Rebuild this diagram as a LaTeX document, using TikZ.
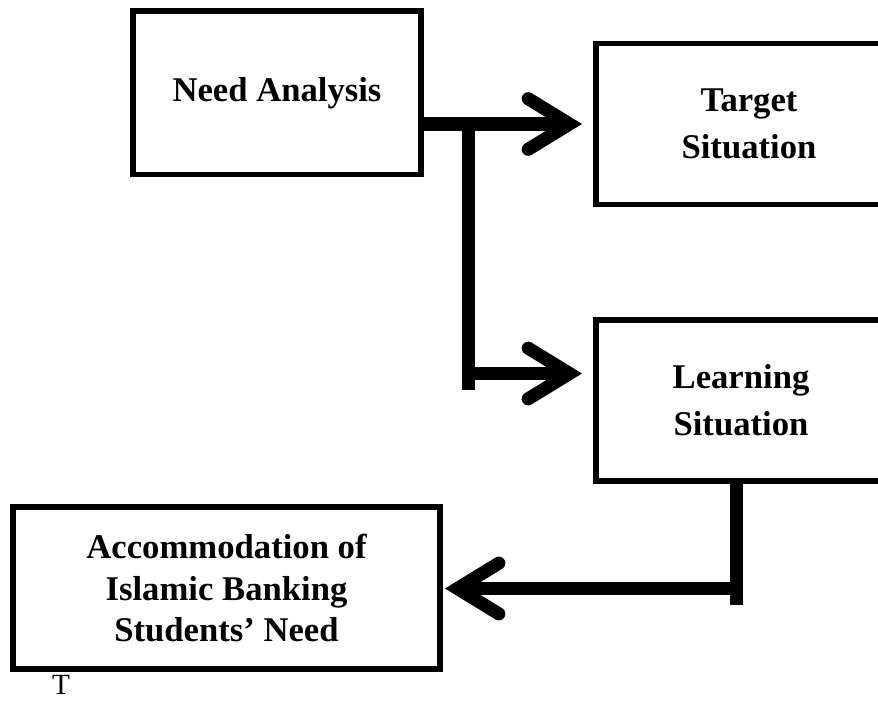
\documentclass[tikz,border=0pt]{standalone}
\usepackage{fontspec}
\setmainfont{Liberation Serif}
\usetikzlibrary{arrows.meta}
\tikzset{
  box/.style={draw, line width=4.3pt, inner sep=0pt, outer sep=0pt, anchor=north west, align=center},
  boxfont/.style={font=\bfseries\fontsize{26}{#1}\selectfont},
  flow/.style={line width=9.8pt},
  head/.style={-{Straight Barb[length=31pt,width=38pt,line cap=round,line join=miter]}}
}
\begin{document}
\begin{tikzpicture}[x=0.75pt,y=0.75pt,yscale=-1,xscale=1]
\useasboundingbox (0,0) rectangle (878,700);
\clip (0,0) rectangle (878,700);

%Shape: Rectangle
\draw (133,11) node [box, boxfont=35pt, minimum width=216pt, minimum height=122.6pt] (need) {Need Analysis};
%Shape: Rectangle
\draw (596,43.5) node [box, boxfont=35.5pt, minimum width=229.5pt, minimum height=120.75pt] (target) {Target\\Situation};
%Shape: Rectangle
\draw (596,320) node [box, boxfont=35pt, minimum width=217.5pt, minimum height=120.75pt] (learn) {Learning\\Situation};
%Shape: Rectangle
\draw (13,507) node [box, boxfont=31pt, minimum width=320.25pt, minimum height=121.5pt] (accom) {Accommodation of\\Islamic Banking\\Students' Need};

% Connector points
\coordinate (split) at (468.5,124);
\coordinate (splitend) at (468.5,390);
\coordinate (branch) at (468.5,373.5);
\coordinate (tiptarget) at (582,124);
\coordinate (tiplearn) at (582,373.5);
\coordinate (drop) at (736.5,588.5);
\coordinate (dropend) at (736.5,605);
\coordinate (tipaccom) at (445,588.5);

%Straight Lines
\draw [flow, head] (need.east |- split) -- (tiptarget);
%Straight Lines
\draw [flow] (split) -- (splitend);
%Straight Lines
\draw [flow, head] (branch) -- (tiplearn);
%Straight Lines
\draw [flow] (learn.south -| drop) -- (dropend);
%Straight Lines
\draw [flow, head] (drop) -- (tipaccom);

% Text Node
\draw (61,685) node [inner sep=0pt, font=\fontsize{22}{26}\selectfont] (note) {T};

\end{tikzpicture}
\end{document}
